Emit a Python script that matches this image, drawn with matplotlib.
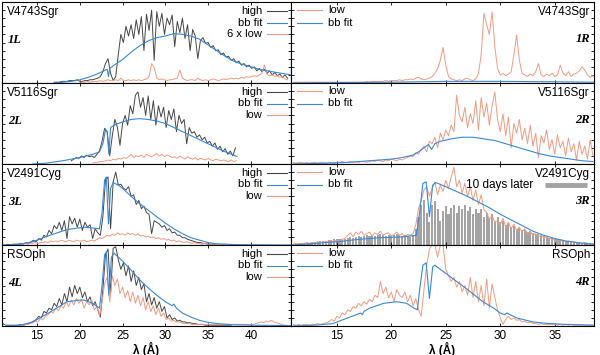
import numpy as np
import matplotlib.pyplot as plt

plt.rcParams['font.family'] = ['Liberation Sans', 'DejaVu Sans']

HIGH_C = '#474747'
BB_C = '#3a88d8'
LOW_C = '#f39a80'
LATER_C = '#a3a3a3'

stars = ['V4743Sgr', 'V5116Sgr', 'V2491Cyg', 'RSOph']
left_labels = [['high', 'bb fit', '6 x low'], ['high', 'bb fit', 'low'],
               ['high', 'bb fit', 'low'], ['high', 'bb fit', 'low']]
right_labels = ['low', 'bb fit']
left_ticks = [15, 20, 25, 30, 35, 40]
right_ticks = [15, 20, 25, 30, 35]

# fluxes in % of panel height; left column sampled every 0.3 A, right every 0.25 A
STEP_L = 0.3
STEP_R = 0.25

# ---- row 1: V4743Sgr
high_1L_start = 17.0
high_1L = [1, 1, 1, 2, 2, 2, 3, 3, 3, 4, 2, 2, 3, 3, 4, 4, 5, 6, 8, 14, 24, 30,
           12, 3, 8, 35, 60, 50, 70, 58, 72, 55, 78, 60, 82, 40, 85, 65, 90, 28,
           88, 70, 86, 60, 80, 72, 84, 45, 76, 62, 80, 55, 72, 40, 66, 58, 30, 52,
           56, 49, 50, 44, 46, 40, 41, 35, 37, 32, 33, 28, 30, 25, 27, 22, 24, 20,
           22, 18, 20, 15, 18, 14, 17, 12, 15, 10, 13, 9, 11, 7, 10, 6]
low6_1L_start = 20.0
low6_1L = [1, 1, 1, 2, 1, 2, 2, 2, 3, 2, 3, 4, 3, 3, 4, 3, 6, 3, 3, 4, 3, 4, 3, 4,
           3, 4, 5, 8, 24, 19, 6, 4, 5, 4, 3, 4, 4, 5, 6, 16, 6, 4, 3, 4, 4, 3, 6, 4,
           3, 4, 3, 4, 5, 4, 3, 4, 5, 4, 5, 6, 5, 6, 5, 7, 6, 8, 7, 8, 9, 8, 10, 12,
           22, 11, 9, 10, 8, 9, 7, 8, 5, 4]
bb_1L_wl = [17.0, 18.0, 19.0, 20.0, 21.0, 22.0, 22.8, 23.2, 23.35, 23.5, 24.0, 25.0,
            26.0, 27.0, 28.0, 29.0, 30.0, 31.0, 32.0, 33.0, 34.0, 35.0, 36.0, 37.0,
            38.0, 39.0, 40.0, 41.0, 42.0, 43.0, 44.7]
bb_1L = [0, 1, 2, 4, 7, 11, 15, 17, 8, 18, 22, 29, 38, 46, 52, 56, 58, 61, 60, 58,
         54, 47, 40, 33, 27, 23, 20, 17, 15, 13, 10]

low_1R_start = 11.0
low_1R = [1] * 27 + [2, 1, 2, 2, 2,
          2, 2, 3, 2, 3, 3, 3, 4, 3, 4, 4, 5, 4, 6, 7, 5, 4, 5, 6, 8, 12, 18, 28,
          44, 22, 8, 5, 4, 3, 4, 3, 5, 6, 4, 3, 5, 12, 35, 86, 72, 60, 88, 45, 18,
          10, 12, 9, 11, 14, 35, 59, 28, 12, 10, 8, 11, 9, 14, 24, 10, 8, 11, 9, 12,
          8, 10, 22, 12, 9, 14, 8, 11, 12, 15, 20, 16, 10, 7, 9]
bb_1R_wl = [11.0, 15.0, 20.0, 25.0, 30.0, 35.0, 38.6]
bb_1R = [0, 0.5, 1, 2, 2, 1.5, 1]

# ---- row 2: V5116Sgr
high_2L_start = 19.0
high_2L = [4, 6, 8, 7, 10, 8, 11, 9, 10, 8, 12, 16, 28, 44, 40, 10, 35, 55, 45, 23,
           50, 60, 48, 72, 62, 85, 89, 70, 82, 60, 84, 55, 78, 48, 72, 58, 70, 45,
           66, 55, 68, 40, 60, 50, 55, 25, 45, 38, 40, 33, 36, 30, 33, 26, 28, 22,
           26, 18, 22, 15, 19, 12, 16, 10, 20]
low_2L_start = 21.5
low_2L = [1, 2, 2, 3, 3, 4, 5, 4, 6, 5, 7, 6, 8, 7, 9, 12, 8, 10, 9, 11, 8, 12, 10,
          9, 11, 13, 10, 12, 9, 11, 10, 8, 9, 7, 10, 8, 6, 9, 7, 6, 8, 5, 7, 6, 5,
          7, 5, 4, 6, 5, 4, 5, 4, 3, 5, 3, 4]
bb_2L_wl = [14.5, 16.0, 18.0, 20.0, 21.5, 22.3, 22.7, 23.0, 23.2, 23.4, 23.6, 24.0,
            25.0, 26.0, 27.0, 28.0, 29.0, 30.0, 31.0, 32.0, 33.0, 34.0, 35.0, 36.0,
            37.0, 38.0, 38.4]
bb_2L = [0, 1, 4, 8, 12, 15, 25, 42, 40, 12, 45, 48, 52, 55, 56, 55, 53, 50, 45, 40,
         35, 30, 25, 20, 15, 11, 9]

low_2R_start = 11.0
low_2R = [2, 1, 2, 2, 1, 2, 1, 2, 2, 1, 2, 2, 1, 2, 2, 1, 2, 2, 3, 2, 2, 3, 2, 3, 2,
          3, 3, 2, 3, 4, 3, 5, 4, 3, 5, 4, 6, 5, 4, 6, 5, 7, 8, 10, 9, 14, 12, 18, 22,
          15, 28, 25, 33, 20, 38, 30, 42, 35, 48, 40, 85, 60, 52, 70, 45, 62, 50, 78,
          42, 82, 58, 75, 48, 72, 89, 55, 40, 62, 35, 58, 20, 50, 38, 55, 30, 44, 25,
          48, 22, 38, 8, 35, 26, 42, 18, 30, 12, 36, 20, 28, 10, 32, 15, 25, 5, 28,
          12, 22, 6, 30, 10]
bb_2R_wl = [11.0, 14.0, 16.0, 18.0, 20.0, 21.0, 22.0, 22.5, 23.0, 23.4, 23.7, 24.0,
            24.5, 25.5, 26.5, 27.5, 28.5, 29.5, 30.5, 31.5, 32.5, 33.5, 34.5, 35.5,
            36.5, 37.5, 38.5]
bb_2R = [0, 1, 2, 4, 6, 8, 11, 15, 20, 24, 18, 25, 28, 31, 33, 33, 31, 29, 25, 21,
         17, 13, 10, 8, 6, 4, 3]

# ---- row 3: V2491Cyg
high_3L_start = 11.0
high_3L = [0, 0, 1, 0, 1, 1, 1, 2, 1, 3, 2, 4, 6, 4, 8, 6, 12, 10, 18, 14, 24, 20,
           28, 18, 30, 8, 35, 26, 33, 22, 32, 18, 28, 22, 25, 8, 20, 15, 12, 35, 80,
           84, 20, 78, 90, 74, 75, 70, 68, 72, 60, 62, 50, 55, 45, 48, 40, 38, 14, 30,
           28, 26, 22, 24, 18, 20, 15, 16, 12, 12, 9, 9, 7, 6, 5, 4, 3, 3, 2, 2, 1, 1,
           1, 0]
low_3L_start = 13.0
low_3L = [1, 1, 2, 1, 2, 2, 3, 2, 3, 3, 4, 3, 5, 4, 5, 4, 6, 5, 4, 6, 5, 4, 6, 5, 5,
          6, 4, 5, 6, 5, 7, 9, 8, 10, 12, 11, 13, 12, 15, 13, 14, 12, 15, 13, 14, 12,
          14, 11, 12, 10, 11, 9, 10, 8, 9, 7, 8, 6, 7, 5, 6, 4, 5, 4, 3, 4, 3, 2, 3,
          2, 2, 1, 2, 1, 1, 1, 1, 1, 1, 1, 1, 0, 1, 0, 0, 0]
bb_3L_wl = [11.5, 13.0, 14.5, 16.5, 18.5, 20.5, 21.5, 22.3, 22.6, 22.9, 23.1, 23.35,
            23.6, 23.9, 24.5, 25.0, 26.0, 27.0, 28.0, 29.0, 30.0, 31.0, 32.0, 33.0,
            34.0, 35.0, 36.0, 38.0, 44.7]
bb_3L = [0, 1, 4, 12, 19, 22, 21, 20, 40, 80, 84, 26, 70, 77, 74, 70, 60, 51, 43, 35,
         27, 20, 14, 9, 6, 3, 1.5, 0.5, 0]

later_3R_start = 11.0
later_3R = [1, 1, 2, 2, 2, 3, 3, 3, 4, 4, 5, 5, 5, 6, 6, 7, 7, 8, 8, 8,
            9, 10, 9, 10, 11, 10, 11, 12, 11, 12, 11, 12, 13, 12, 11, 12, 11, 12, 13,
            12, 11, 12, 11, 10, 12, 20, 35, 50, 55, 40, 28, 50, 54, 45, 30, 42, 48, 38,
            46, 50, 40, 48, 44, 50, 42, 47, 38, 45, 40, 44, 35, 40, 33, 38, 30, 34, 28,
            30, 25, 27, 22, 24, 20, 21, 18, 19, 16, 17, 15, 14, 13, 12, 11, 10, 9, 9,
            8, 7, 7, 6, 5, 5, 4, 4, 3, 3, 3, 2, 2, 2, 1]
low_3R_start = 11.0
low_3R = [1, 2, 1, 2, 2, 3, 2, 3, 3, 4, 3, 4, 4, 5, 4, 5, 6, 5, 7, 8,
          12, 15, 10, 16, 13, 17, 12, 14, 16, 11, 15, 13, 17, 12, 14, 15, 11, 13, 16,
          12, 14, 10, 13, 12, 14, 25, 45, 55, 68, 72, 60, 70, 78, 62, 74, 66, 80, 70,
          84, 96, 72, 80, 64, 76, 60, 72, 55, 68, 50, 62, 44, 40, 32, 36, 28, 30, 25,
          33, 22, 28, 20, 26, 18, 22, 16, 20, 14, 17, 12, 14, 10, 12, 9, 10, 7, 9, 6,
          7, 5, 6, 4, 5, 4, 4, 3, 3, 2, 3, 2, 2, 1]
bb_3R_wl = [11.0, 13.0, 15.0, 17.0, 19.0, 21.0, 22.3, 22.6, 22.9, 23.2, 23.5, 23.8,
            24.1, 25.0, 26.0, 27.0, 28.0, 29.0, 30.0, 31.0, 32.0, 33.0, 34.0, 35.0,
            36.0, 37.0, 38.6]
bb_3R = [0, 2, 4, 7, 9, 10, 12, 40, 76, 78, 35, 74, 77, 72, 66, 60, 53, 46, 38, 31,
         24, 17, 12, 8, 5, 3, 1]

# ---- row 4: RSOph
high_4L_start = 11.0
high_4L = [3, 1, 1, 1, 1, 1, 1, 2, 1, 2, 3, 4, 6, 8, 12, 10, 18, 16, 22, 20, 28, 24,
           34, 26, 40, 30, 48, 36, 50, 40, 48, 35, 42, 30, 36, 25, 30, 20, 11, 45, 88,
           95, 40, 96, 98, 82, 70, 78, 62, 74, 55, 68, 50, 60, 45, 52, 30, 40, 26, 35,
           22, 30, 18, 24, 10, 14, 8, 10, 6, 7, 5, 5, 4, 4, 3, 3, 2, 2, 2, 1, 1, 1, 1,
           1, 1, 1, 1, 1, 1, 1]
low_4L_start = 13.0
low_4L = [1, 1, 2, 2, 3, 4, 6, 5, 9, 8, 12, 14, 18, 16, 22, 19, 25, 22, 30, 24, 32,
          26, 34, 28, 33, 22, 30, 26, 32, 20, 24, 12, 30, 52, 60, 30, 62, 50, 58, 40,
          48, 35, 44, 30, 42, 28, 38, 25, 35, 20, 30, 18, 25, 14, 22, 12, 16, 8, 10,
          6, 7, 5, 5, 4, 3, 3, 3, 2] + [2] * 24 + [3, 4, 5, 4, 6, 5, 7, 5, 4, 3, 2,
                                                 1, 1]
bb_4L_wl = [11.5, 13.0, 14.5, 16.5, 18.5, 20.0, 20.5, 21.5, 22.3, 22.6, 22.9, 23.1,
            23.4, 23.7, 24.0, 25.0, 26.0, 27.0, 28.0, 29.0, 30.0, 30.8, 31.0, 31.3,
            32.0, 33.0, 34.0, 35.0, 36.0, 38.0, 40.0, 44.7]
bb_4L = [0, 1, 5, 17, 30, 32, 32, 28, 22, 50, 88, 91, 38, 85, 90, 80, 69, 57, 47, 38,
         30, 25, 27, 22, 16, 11, 7, 4.5, 3, 1.5, 1, 0.5]

low_4R_start = 11.0
low_4R = [2, 1, 2, 1, 2, 2, 1, 2, 2, 3, 2, 3, 4, 5, 8, 6, 12, 10, 16, 14, 20, 18, 24,
          22, 28, 25, 30, 27, 33, 30, 38, 35, 55, 40, 48, 35, 42, 30, 45, 38, 35, 42,
          30, 38, 25, 34, 20, 12, 45, 75, 95, 100, 100, 85, 100, 100, 70, 62, 55, 60,
          48, 55, 42, 50, 38, 60, 35, 55, 30, 50, 25, 58, 22, 52, 35, 20, 10, 2, 8,
          12, 8, 10, 7, 8, 5, 6, 4, 5, 3, 3, 2, 3, 2, 2, 2, 2, 2, 1, 2, 1, 2, 1, 2, 1,
          1, 1, 1, 1, 1, 1, 1]
bb_4R_wl = [11.0, 13.0, 14.65, 16.2, 17.2, 17.35, 17.5, 18.0, 19.3, 20.5, 21.4, 22.1,
            22.4, 22.6, 22.9, 23.2, 23.5, 23.8, 24.0, 25.4, 26.9, 28.4, 29.4, 30.0,
            30.4, 30.6, 31.5, 33.0, 34.5, 36.0, 38.6]
bb_4R = [0, 1, 3, 11, 16, 14, 18, 22, 28, 30, 28, 22, 20, 45, 75, 78, 34, 73, 75, 61,
         46, 30, 22, 16, 14, 16, 10, 5, 3, 2, 1]


def grid(start, step, vals):
    return start + step * np.arange(len(vals)), np.asarray(vals, dtype=float)


left_data = [
    [grid(high_1L_start, STEP_L, high_1L), grid(low6_1L_start, STEP_L, low6_1L), (bb_1L_wl, bb_1L)],
    [grid(high_2L_start, STEP_L, high_2L), grid(low_2L_start, STEP_L, low_2L), (bb_2L_wl, bb_2L)],
    [grid(high_3L_start, STEP_L, high_3L), grid(low_3L_start, STEP_L, low_3L), (bb_3L_wl, bb_3L)],
    [grid(high_4L_start, STEP_L, high_4L), grid(low_4L_start, STEP_L, low_4L), (bb_4L_wl, bb_4L)],
]
right_data = [
    [grid(low_1R_start, STEP_R, low_1R), (bb_1R_wl, bb_1R)],
    [grid(low_2R_start, STEP_R, low_2R), (bb_2R_wl, bb_2R)],
    [grid(low_3R_start, STEP_R, low_3R), (bb_3R_wl, bb_3R)],
    [grid(low_4R_start, STEP_R, low_4R), (bb_4R_wl, bb_4R)],
]

W, H = 600, 355
fig = plt.figure(figsize=(6.0, 3.55), dpi=100)

top, bottom = 2, 326
row_h = (bottom - top) / 4
xl0, xmid, xr1 = 2, 291, 594


def style(ax, xlim, ticks, show_labels):
    ax.set_xlim(*xlim)
    ax.set_ylim(0, 100)
    ax.set_xticks(ticks)
    ax.set_yticks(np.arange(10, 100, 10))
    ax.set_yticklabels([])
    ax.tick_params(direction='in', length=2.5, width=0.6, top=True, right=True,
                   labelsize=8.5, pad=3)
    if not show_labels:
        ax.set_xticklabels([])
    for s in ax.spines.values():
        s.set_linewidth(0.8)


for i in range(4):
    y0 = 1 - (top + row_h * (i + 1)) / H
    hfrac = row_h / H
    last = i == 3

    # left column
    ax = fig.add_axes([xl0 / W, y0, (xmid - xl0) / W, hfrac])
    (hx, hy), (lx, ly), (bx, by) = left_data[i]
    ax.plot(hx, hy, color=HIGH_C, lw=0.7)
    ax.plot(lx, ly, color=LOW_C, lw=0.7)
    ax.plot(bx, by, color=BB_C, lw=0.8)
    style(ax, (10.9, 44.7), left_ticks, last)
    pw = xmid - xl0
    ax.text(5 / pw, 1 - 10 / row_h, stars[i], transform=ax.transAxes,
            ha='left', va='center', fontsize=8.5)
    ax.text(6 / pw, 1 - 38 / row_h, f'{i + 1}L', transform=ax.transAxes,
            ha='left', va='center', fontsize=9, family='Liberation Serif',
            style='italic', weight='bold')
    for k, (lab, c) in enumerate(zip(left_labels[i], [HIGH_C, BB_C, LOW_C])):
        yy = 1 - (9 + 11.5 * k) / row_h
        ax.text((262 - xl0) / pw, yy, lab, transform=ax.transAxes,
                ha='right', va='center', fontsize=8)
        ax.plot([(267 - xl0) / pw, (287 - xl0) / pw], [yy, yy], color=c, lw=0.8,
                transform=ax.transAxes, clip_on=False)

    # right column
    ax = fig.add_axes([xmid / W, y0, (xr1 - xmid) / W, hfrac])
    (lx, ly), (bx, by) = right_data[i]
    if i == 2:
        gx, gy = grid(later_3R_start, STEP_R, later_3R)
        ax.bar(gx, gy, width=0.19, color=LATER_C, linewidth=0)
    ax.plot(lx, ly, color=LOW_C, lw=0.7)
    ax.plot(bx, by, color=BB_C, lw=0.8)
    style(ax, (10.8, 38.6), right_ticks, last)
    pw = xr1 - xmid
    ax.text(1 - 4 / pw, 1 - 10 / row_h, stars[i], transform=ax.transAxes,
            ha='right', va='center', fontsize=8.5)
    ax.text(1 - 4 / pw, 1 - 37 / row_h, f'{i + 1}R', transform=ax.transAxes,
            ha='right', va='center', fontsize=9, family='Liberation Serif',
            style='italic', weight='bold')
    for k, (lab, c) in enumerate(zip(right_labels, [LOW_C, BB_C])):
        yy = 1 - (8 + 12.5 * k) / row_h
        ax.plot([6 / pw, 31 / pw], [yy, yy], color=c, lw=0.8,
                transform=ax.transAxes, clip_on=False)
        ax.text(37 / pw, yy, lab, transform=ax.transAxes,
                ha='left', va='center', fontsize=8)
    if i == 2:
        yy = 1 - 21 / row_h
        ax.text((533 - xmid) / pw, yy, '10 days later', transform=ax.transAxes,
                ha='right', va='center', fontsize=8.5)
        ax.plot([(545 - xmid) / pw, (587 - xmid) / pw], [yy, yy], color=LATER_C,
                lw=3.5, transform=ax.transAxes, solid_capstyle='butt')

# x labels under each column
for xc in [(xl0 + xmid) / 2, (xmid + xr1) / 2]:
    fig.text(xc / W, 1 - 349 / H, 'λ (Å)', ha='center', va='center',
             fontsize=8.5, weight='bold')

fig.savefig('out.png', dpi=100)
